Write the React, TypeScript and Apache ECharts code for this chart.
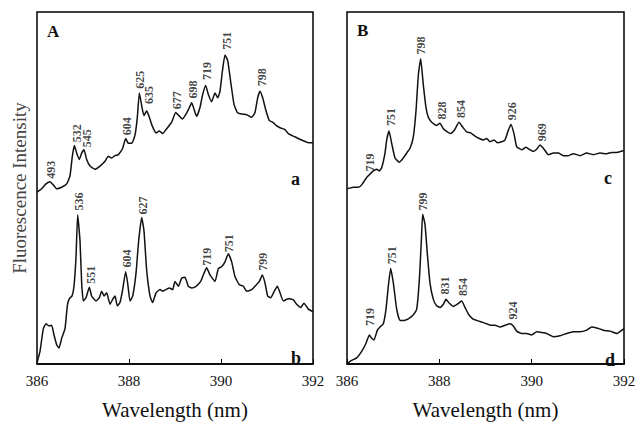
import React, { useEffect, useRef } from "react";
import * as echarts from "echarts";

// ---- Panel A, trace a ----
const wlA_a = [386.0,386.101,386.196,386.283,386.355,386.428,386.536,386.645,386.717,386.768,386.812,386.862,386.92,386.971,387.022,387.08,387.152,387.261,387.37,387.478,387.551,387.623,387.696,387.768,387.862,387.928,387.986,388.058,388.13,388.181,388.225,388.283,388.326,388.384,388.442,388.5,388.587,388.659,388.732,388.819,388.928,389.014,389.087,389.159,389.239,389.312,389.362,389.413,389.471,389.543,389.601,389.667,389.725,389.797,389.87,389.928,389.978,390.029,390.087,390.145,390.21,390.283,390.355,390.449,390.558,390.667,390.739,390.797,390.848,390.906,390.978,391.051,391.123,391.196,391.283,391.391,391.464,391.572,391.681,391.79,391.899,392.0];
const intA_a = [176.3,179.7,184.7,187,183.7,179.7,181.3,184.7,193,213,224,216.3,209.7,216.3,219.7,209.7,203,199.7,203,208,213,211.3,213.7,214.7,221.3,231.3,226.3,226.3,234.7,253,278,263,254.7,259.7,253,244.7,237,239,236.3,241.3,248,258,254.7,251.3,256.3,263,268,261.3,254,263,276.3,285.7,276.3,269,278,273,279.7,299.7,317,311.3,289.7,266.3,258,256.3,255.7,253,258,273,279.7,273,259.7,249.7,248,244.7,242.3,240.3,236.3,233.7,231.3,229,227,227];

// ---- Panel A, trace b ----
const wlA_b = [386.0,386.065,386.138,386.196,386.261,386.319,386.37,386.428,386.478,386.536,386.609,386.659,386.703,386.761,386.804,386.848,386.884,386.935,386.971,387.007,387.065,387.138,387.188,387.283,387.355,387.406,387.457,387.514,387.587,387.645,387.696,387.746,387.804,387.862,387.928,387.971,388.022,388.08,388.152,388.21,388.275,388.326,388.384,388.457,388.514,388.587,388.674,388.732,388.804,388.877,388.949,389.0,389.072,389.145,389.217,389.29,389.362,389.457,389.558,389.63,389.688,389.761,389.87,389.942,390.014,390.087,390.159,390.232,390.304,390.399,390.486,390.558,390.667,390.739,390.833,390.899,390.957,391.014,391.08,391.159,391.225,391.283,391.355,391.464,391.572,391.645,391.732,391.804,391.899,392.0];
const intA_b = [1.3,13,36.3,41.3,39,39.7,29.7,19.7,16.3,26.3,36.3,59.7,67,69.7,79.7,109.7,153,126.3,83,64.7,68,78.7,69.7,64.7,68,74.7,69.7,73,61.3,66.3,69.7,59.7,63,76.3,94.7,83,64.7,69.7,93,126.3,150.3,136.3,96.3,69.7,63,73,76.3,74.7,76.3,78,76.3,84.7,79.7,88,89,79.7,78,79.7,84.7,93,98.7,91.3,84.7,98,99.7,104.7,113,104.7,89.7,81.3,79.7,74.7,76.3,79.7,84.7,91.3,83,69.7,68,74.7,79.7,73,64.7,67,65.7,61.3,58,62.3,56.3,53.7];

// ---- Panel B, trace c ----
const wlB_c = [386.0,386.137,386.245,386.318,386.426,386.498,386.57,386.643,386.7,386.751,386.823,386.859,386.91,386.968,387.04,387.134,387.22,387.292,387.365,387.437,387.495,387.545,387.596,387.653,387.711,387.762,387.834,387.942,388.014,388.087,388.173,388.245,388.325,388.426,388.505,388.592,388.679,388.773,388.866,388.953,389.025,389.097,389.184,389.256,389.35,389.422,389.495,389.552,389.617,389.675,389.783,389.877,389.964,390.036,390.108,390.181,390.253,390.361,390.469,390.578,390.686,390.794,390.903,391.047,391.191,391.336,391.48,391.625,391.733,391.841,392.0];
const intB_c = [179.7,181.3,181.3,183.7,191.3,194.7,198,199.7,198,201.3,216.3,229.7,239,226.3,211.3,207,211.3,216.3,221.3,233,259.7,296.3,313,286.3,263,253,248,244.7,247,241.3,238,236.3,239.7,248,243,238,237,233.7,231.3,229.7,231.3,228,229.7,227,228,229.7,239.7,245.7,236.3,223,219.7,222.3,219.7,218,220.3,224.7,221.3,214.7,216.3,216.3,213.7,213.7,215.7,213.7,216.3,214.7,216.3,215.7,217,217,219];

// ---- Panel B, trace d ----
const wlB_d = [386.0,386.101,386.209,386.318,386.412,386.484,386.534,386.585,386.657,386.715,386.787,386.845,386.895,386.946,387.004,387.076,387.148,387.235,387.329,387.422,387.509,387.567,387.61,387.639,387.69,387.74,387.798,387.87,387.942,388.014,388.087,388.144,388.217,388.303,388.39,388.484,388.556,388.628,388.722,388.809,388.917,389.025,389.112,389.206,389.314,389.422,389.531,389.603,389.675,389.783,389.892,390.0,390.108,390.217,390.325,390.469,390.614,390.758,390.903,391.047,391.191,391.3,391.408,391.552,391.697,391.841,392.0];
const intB_d = [0.5,3.7,6.3,13,21.3,29.7,26.3,24.7,34.7,38,41.3,56.3,79.7,98,83,56.3,44.7,44.7,46.3,49.7,56.3,86.3,126.3,153.7,143,113,83,66.3,59.7,58,61.3,66.3,62.3,59,61.3,64.7,58,51.3,46.3,44.7,43,41.3,39.7,39.7,38,39.7,41.3,39,33.7,31.3,31.3,29.7,33,32.3,31.3,28,29,31.3,33,33,34.7,38,37,34.7,33.7,31.3,36.3];

// ---- Peak labels (text, wavelength, intensity at label base) ----
const peaksA_a: [string, number, number][] = [["493",386.297,189],["532",386.862,226.3],["545",387.08,221.3],["604",387.949,233.7],["625",388.239,281.3],["635",388.428,265.7],["677",389.051,260.3],["698",389.384,271.3],["719",389.688,290.3],["751",390.138,321.3],["798",390.884,283.7]];
const peaksA_b: [string, number, number][] = [["536",386.906,156.3],["551",387.167,81.3],["604",387.949,98],["627",388.312,152.3],["719",389.688,99.7],["751",390.181,113.7],["799",390.92,94.7]];
const peaksB_c: [string, number, number][] = [["719",386.498,196.3],["751",386.946,243],["798",387.61,316.3],["828",388.058,249.7],["854",388.462,251.3],["926",389.581,249],["969",390.217,227.3]];
const peaksB_d: [string, number, number][] = [["719",386.498,38],["751",386.982,101.3],["799",387.653,156.3],["831",388.123,70.3],["854",388.505,68.7],["924",389.588,44.7]];

const xTicks = [386, 388, 390, 392];

const SERIF = "serif";

function lineSeries(wl: number[], it: number[], idx: number) {
  return {
    type: "line",
    xAxisIndex: idx,
    yAxisIndex: idx,
    data: wl.map((w, i) => [w, it[i]]),
    showSymbol: false,
    symbol: "none",
    smooth: 0.15,
    lineStyle: { color: "#111", width: 1.5 },
    silent: true,
  };
}

function labelSeries(peaks: [string, number, number][], idx: number) {
  return {
    type: "scatter",
    xAxisIndex: idx,
    yAxisIndex: idx,
    symbolSize: 0,
    silent: true,
    data: peaks.map((p) => ({ name: p[0], value: [p[1], p[2]] })),
    label: {
      show: true,
      formatter: "{p|{b}}",
      position: "top",
      distance: 1,
      rotate: 90,
      align: "left",
      verticalAlign: "middle",
      fontFamily: SERIF,
      fontSize: 12,
      fontWeight: "bold",
      color: "#111",
      rich: { p: { fontFamily: SERIF, fontSize: 12, fontWeight: "bold", color: "#111" } },
    },
  };
}

function makeXAxis(idx: number) {
  return {
    type: "value",
    gridIndex: idx,
    min: 386,
    max: 392,
    interval: 2,
    name: "{n|Wavelength (nm)}",
    nameLocation: "middle",
    nameGap: 35,
    nameTextStyle: {
      fontFamily: SERIF,
      fontSize: 21,
      color: "#111",
      rich: { n: { fontFamily: SERIF, fontSize: 21, color: "#111" } },
    },
    axisLine: { show: true, lineStyle: { color: "#000", width: 1.5 } },
    axisTick: { show: true, inside: true, length: 5, lineStyle: { color: "#000" } },
    axisLabel: {
      fontFamily: SERIF,
      fontSize: 15,
      color: "#111",
      margin: 9,
      showMinLabel: true,
      showMaxLabel: true,
      formatter: (v: number) => (xTicks.includes(v) ? "{t|" + v + "}" : ""),
      rich: { t: { fontFamily: SERIF, fontSize: 15, color: "#111" } },
    },
    splitLine: { show: false },
  };
}

function makeYAxis(idx: number) {
  return {
    type: "value",
    gridIndex: idx,
    min: 0,
    max: 361,
    name: idx === 0 ? "{y|Fluorescence Intensity}" : "",
    nameLocation: "middle",
    nameRotate: 90,
    nameGap: 8,
    nameTextStyle: {
      fontFamily: SERIF,
      fontSize: 19,
      color: "#444",
      rich: { y: { fontFamily: SERIF, fontSize: 19, color: "#444" } },
    },
    axisLine: { show: false },
    axisTick: { show: false },
    axisLabel: { show: false },
    splitLine: { show: false },
  };
}

export default function App() {
  const ref = useRef<HTMLDivElement>(null);
  useEffect(() => {
    document.body.style.margin = "0";
    if (!ref.current) return;
    const chart = echarts.init(ref.current, null, { renderer: "svg" });
    const letter = (t: string, x: number, y: number, size: number) => ({
      type: "text",
      x,
      y,
      style: { text: t, fontFamily: SERIF, fontSize: size, fontWeight: "bold", fill: "#111", verticalAlign: "middle" },
    });
    chart.setOption({
      animation: false,
      backgroundColor: "#fff",
      textStyle: { fontFamily: SERIF },
      grid: [
        { left: 37, top: 12, width: 276, height: 361, show: true, borderColor: "#000", borderWidth: 1.5, backgroundColor: "transparent" },
        { left: 347, top: 12, width: 277, height: 361, show: true, borderColor: "#000", borderWidth: 1.5, backgroundColor: "transparent" },
      ],
      xAxis: [makeXAxis(0), makeXAxis(1)],
      yAxis: [makeYAxis(0), makeYAxis(1)],
      series: [
        lineSeries(wlA_a, intA_a, 0),
        lineSeries(wlA_b, intA_b, 0),
        lineSeries(wlB_c, intB_c, 1),
        lineSeries(wlB_d, intB_d, 1),
        labelSeries(peaksA_a, 0),
        labelSeries(peaksA_b, 0),
        labelSeries(peaksB_c, 1),
        labelSeries(peaksB_d, 1),
      ],
      graphic: [
        letter("A", 47, 31, 17),
        letter("B", 357, 30, 17),
        letter("a", 291, 179, 18),
        letter("b", 291, 358, 18),
        letter("c", 604, 178, 18),
        letter("d", 605, 360, 18),
      ],
    });
    return () => chart.dispose();
  }, []);
  return <div ref={ref} style={{ width: 642, height: 425 }} />;
}
